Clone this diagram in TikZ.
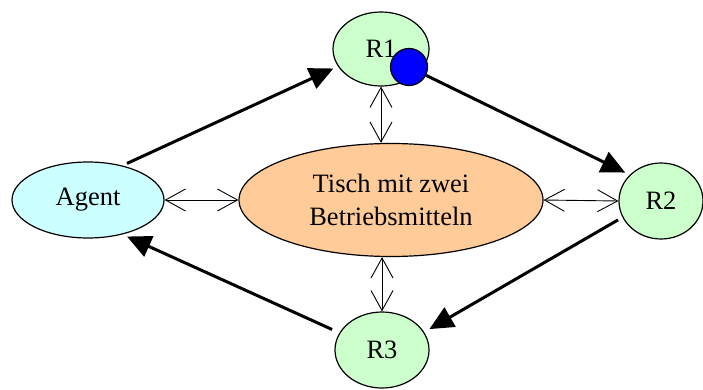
\documentclass[tikz,border=0pt]{standalone}
\usepackage{fontspec}
\setmainfont{Liberation Serif}
\usetikzlibrary{arrows.meta,shapes.geometric}
\definecolor{agentc}{HTML}{CCFFFF}
\definecolor{rc}{HTML}{CCFFCC}
\definecolor{tablec}{HTML}{FFCC99}
\begin{document}
\begin{tikzpicture}[x=1pt,y=-1pt,
  ell/.style={ellipse, draw, line width=1.2pt, inner sep=0pt, font=\fontsize{26.5}{33}\selectfont},
  bigarrow/.style={line width=3pt, -{Triangle[length=24pt,width=22pt]}},
  dblarrow/.style={line width=0.9pt, {Straight Barb[length=20pt,width=22pt]}-{Straight Barb[length=20pt,width=22pt]}}]
\useasboundingbox (0,0) rectangle (703,390);
\node[ell, fill=agentc, minimum width=152pt, minimum height=76pt] (agent) at (88,200) {Agent};
\node[ell, fill=tablec, minimum width=304pt, minimum height=113pt, align=center] (table) at (391,200) {Tisch mit zwei\\Betriebsmitteln};
\node[ell, fill=rc, minimum width=96pt, minimum height=74pt] (r1) at (381,49) {R1};
\node[ell, fill=rc, minimum width=84pt, minimum height=76pt] (r2) at (661,201) {R2};
\node[ell, fill=rc, minimum width=94pt, minimum height=76pt] (r3) at (382,350) {R3};
\node[circle, draw, line width=1.2pt, fill=blue, minimum size=37pt, inner sep=0pt] (dot) at (409,67) {};
\draw[bigarrow, shorten <=5pt, shorten >=5pt] (agent.45) -- (r1.202);
\draw[bigarrow, shorten >=5pt] (dot) -- (r2.140);
\draw[bigarrow, shorten <=5pt, shorten >=6pt] (r2.203) -- (r3.23);
\draw[bigarrow, shorten <=8pt, shorten >=5pt] (r3.158) -- (agent.315);
\draw[dblarrow] (agent.east) -- (table.west);
\draw[dblarrow] (table.east) -- (r2.west);
\draw[dblarrow] (r1.south) -- (r1.south |- table.north);
\draw[dblarrow] (r3.north) -- (r3.north |- table.south);
\end{tikzpicture}
\end{document}
